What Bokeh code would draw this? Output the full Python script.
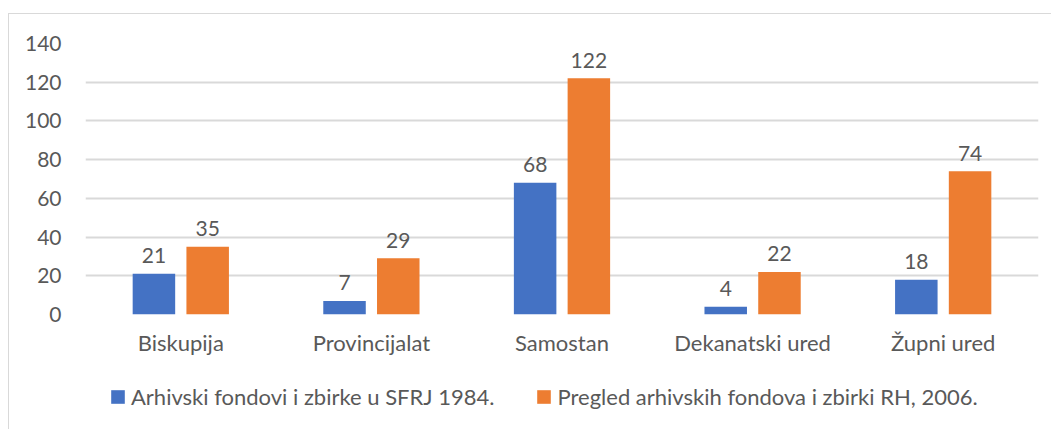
from bokeh.plotting import figure
from bokeh.layouts import column
from bokeh.models import FactorRange, Range1d, Legend, LegendItem, ColumnDataSource, FixedTicker
from bokeh.transform import dodge
from bokeh.core.properties import value
from bokeh.embed import file_html
from bokeh.resources import INLINE

categories = ["Biskupija", "Provincijalat", "Samostan", "Dekanatski ured", "Župni ured"]
series_1984 = [21, 7, 68, 4, 18]
series_2006 = [35, 29, 122, 22, 74]
series_names = ["Arhivski fondovi i zbirke u SFRJ 1984.",
                "Pregled arhivskih fondova i zbirki RH, 2006."]
y_ticks = [0, 20, 40, 60, 80, 100, 120, 140]

FONT = "Lato"
FS_NUM = "21px"
FS_TXT = "22px"
TEXT = "#595959"
BLUE = "#4472C4"
ORANGE = "#ED7D31"
GRID = "#D9D9D9"
BORDER = "1px solid #D9D9D9"

src = ColumnDataSource(dict(
    cat=categories, a=series_1984, b=series_2006,
    la=[str(v) for v in series_1984], lb=[str(v) for v in series_2006],
))

# ---- main chart ----
p = figure(x_range=FactorRange(factors=categories, range_padding=0),
           y_range=Range1d(0, 140),
           width=1043, height=350,
           output_backend="svg", toolbar_location=None,
           min_border_left=76, min_border_right=14,
           min_border_top=29, min_border_bottom=50)
p.margin = (13, 0, 0, 8)
p.styles = {"border-top": BORDER, "border-left": BORDER}
p.outline_line_color = None
p.background_fill_color = "white"
p.border_fill_color = "white"

off = 0.141
bw = 0.223
p.vbar(x=dodge("cat", -off, range=p.x_range), top="a", width=bw, source=src,
       fill_color=BLUE, line_color=None)
p.vbar(x=dodge("cat", off, range=p.x_range), top="b", width=bw, source=src,
       fill_color=ORANGE, line_color=None)

for col, lab, o in (("a", "la", -off), ("b", "lb", off)):
    p.text(x=dodge("cat", o, range=p.x_range), y=col, text=lab, source=src,
           text_align="center", text_baseline="alphabetic", y_offset=-18,
           text_font=value(FONT), text_font_size=FS_NUM, text_color=TEXT)

p.xgrid.visible = False
p.ygrid.grid_line_color = GRID
p.ygrid.grid_line_width = 2
p.ygrid.ticker = FixedTicker(ticks=y_ticks)

p.yaxis.ticker = FixedTicker(ticks=y_ticks)
p.yaxis.axis_line_color = None
p.yaxis.major_tick_line_color = None
p.yaxis.minor_tick_line_color = None
p.yaxis.major_label_standoff = 18
p.yaxis.major_label_text_font = FONT
p.yaxis.major_label_text_font_size = FS_NUM
p.yaxis.major_label_text_color = TEXT

p.xaxis.axis_line_color = None
p.xaxis.major_tick_line_color = None
p.xaxis.major_label_standoff = 8
p.xaxis.major_label_text_font = FONT
p.xaxis.major_label_text_font_size = FS_TXT
p.xaxis.major_label_text_color = TEXT

# ---- legend strip (bars here fall outside its visible y range) ----
lf = figure(x_range=FactorRange(factors=categories, range_padding=0),
            y_range=Range1d(1000, 1001), width=1043, height=66,
            output_backend="svg", toolbar_location=None,
            x_axis_type=None, y_axis_type=None,
            min_border=0, min_border_left=0, min_border_right=0,
            min_border_top=0, min_border_bottom=0)
lf.margin = (0, 0, 0, 8)
lf.styles = {"border-left": BORDER}
lf.outline_line_color = None
lf.grid.visible = False
lf.background_fill_color = "white"
lf.border_fill_color = "white"
g1 = lf.vbar(x="cat", top="a", width=0.1, source=src, fill_color=BLUE, line_color=None)
g2 = lf.vbar(x="cat", top="b", width=0.1, source=src, fill_color=ORANGE, line_color=None)

lg = Legend(items=[LegendItem(label=series_names[0], renderers=[g1]),
                   LegendItem(label=series_names[1], renderers=[g2])],
            location=(24, 19), orientation="horizontal", padding=0, margin=0,
            spacing=41, border_line_color=None, background_fill_alpha=0,
            glyph_width=17, glyph_height=17, label_standoff=5,
            label_text_font=FONT, label_text_font_size=FS_TXT,
            label_text_color=TEXT)
lf.add_layout(lg, "center")

layout = column(p, lf, spacing=0)
open("out.html", "w").write(file_html(layout, INLINE))
